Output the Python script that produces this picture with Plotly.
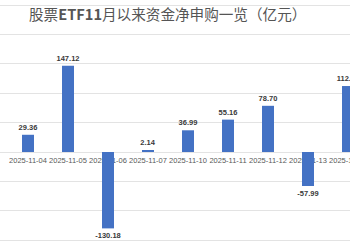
import plotly.graph_objects as go

categories = ["2025-11-03", "2025-11-04", "2025-11-05", "2025-11-06", "2025-11-07",
              "2025-11-10", "2025-11-11", "2025-11-12", "2025-11-13", "2025-11-14"]
values = [12.50, 29.36, 147.12, -130.18, 2.14, 36.99, 55.16, 78.70, -57.99, 112.41]
labels = [f"{v:.2f}" for v in values]

title_text = "股票<b>ETF11</b>月以来资金净申购一览（亿元）"

y_min, y_max = -167, 259
x_min, x_max = 0.3, 9.05

fig = go.Figure()
fig.add_trace(go.Bar(
    x=categories, y=values, text=labels, textposition="outside",
    constraintext="none", cliponaxis=False, width=0.3,
    marker=dict(color="#4472C4", line=dict(width=0)),
    textfont=dict(family="Liberation Sans, Arial", size=7.5, color="#3a3a3a", weight="bold"),
    hoverinfo="skip",
))
# partially visible first category label (outside axis range)
fig.add_trace(go.Scatter(
    x=[categories[0]], y=[0], mode="text", text=[categories[0]],
    textposition="bottom center", cliponaxis=False,
    textfont=dict(family="Liberation Sans, Arial", size=7.5, color="#595959"),
    hoverinfo="skip", showlegend=False,
))

zero_pos = (0 - y_min) / (y_max - y_min)

fig.update_layout(
    width=350, height=250,
    margin=dict(l=0, r=0, t=0, b=0, autoexpand=False),
    paper_bgcolor="white", plot_bgcolor="white",
    showlegend=False,
    title=dict(text=title_text, x=0.479, xanchor="center", y=0.94, yanchor="middle",
               automargin=False,
               font=dict(family="Noto Sans CJK SC", size=14.6, color="#555555")),
    xaxis=dict(type="category", range=[x_min, x_max], showgrid=False, zeroline=False,
               showline=False, ticks="", anchor="free", position=zero_pos,
               layer="below traces", tickangle=0, automargin=False,
               ticklabelstandoff=3,
               tickfont=dict(family="Liberation Sans, Arial", size=7.5, color="#595959")),
    yaxis=dict(range=[y_min, y_max], dtick=50, tick0=0, showticklabels=False,
               automargin=False,
               showgrid=True, gridcolor="#e3e3e3", gridwidth=1, zeroline=False),
)

fig.write_html("out.html")
